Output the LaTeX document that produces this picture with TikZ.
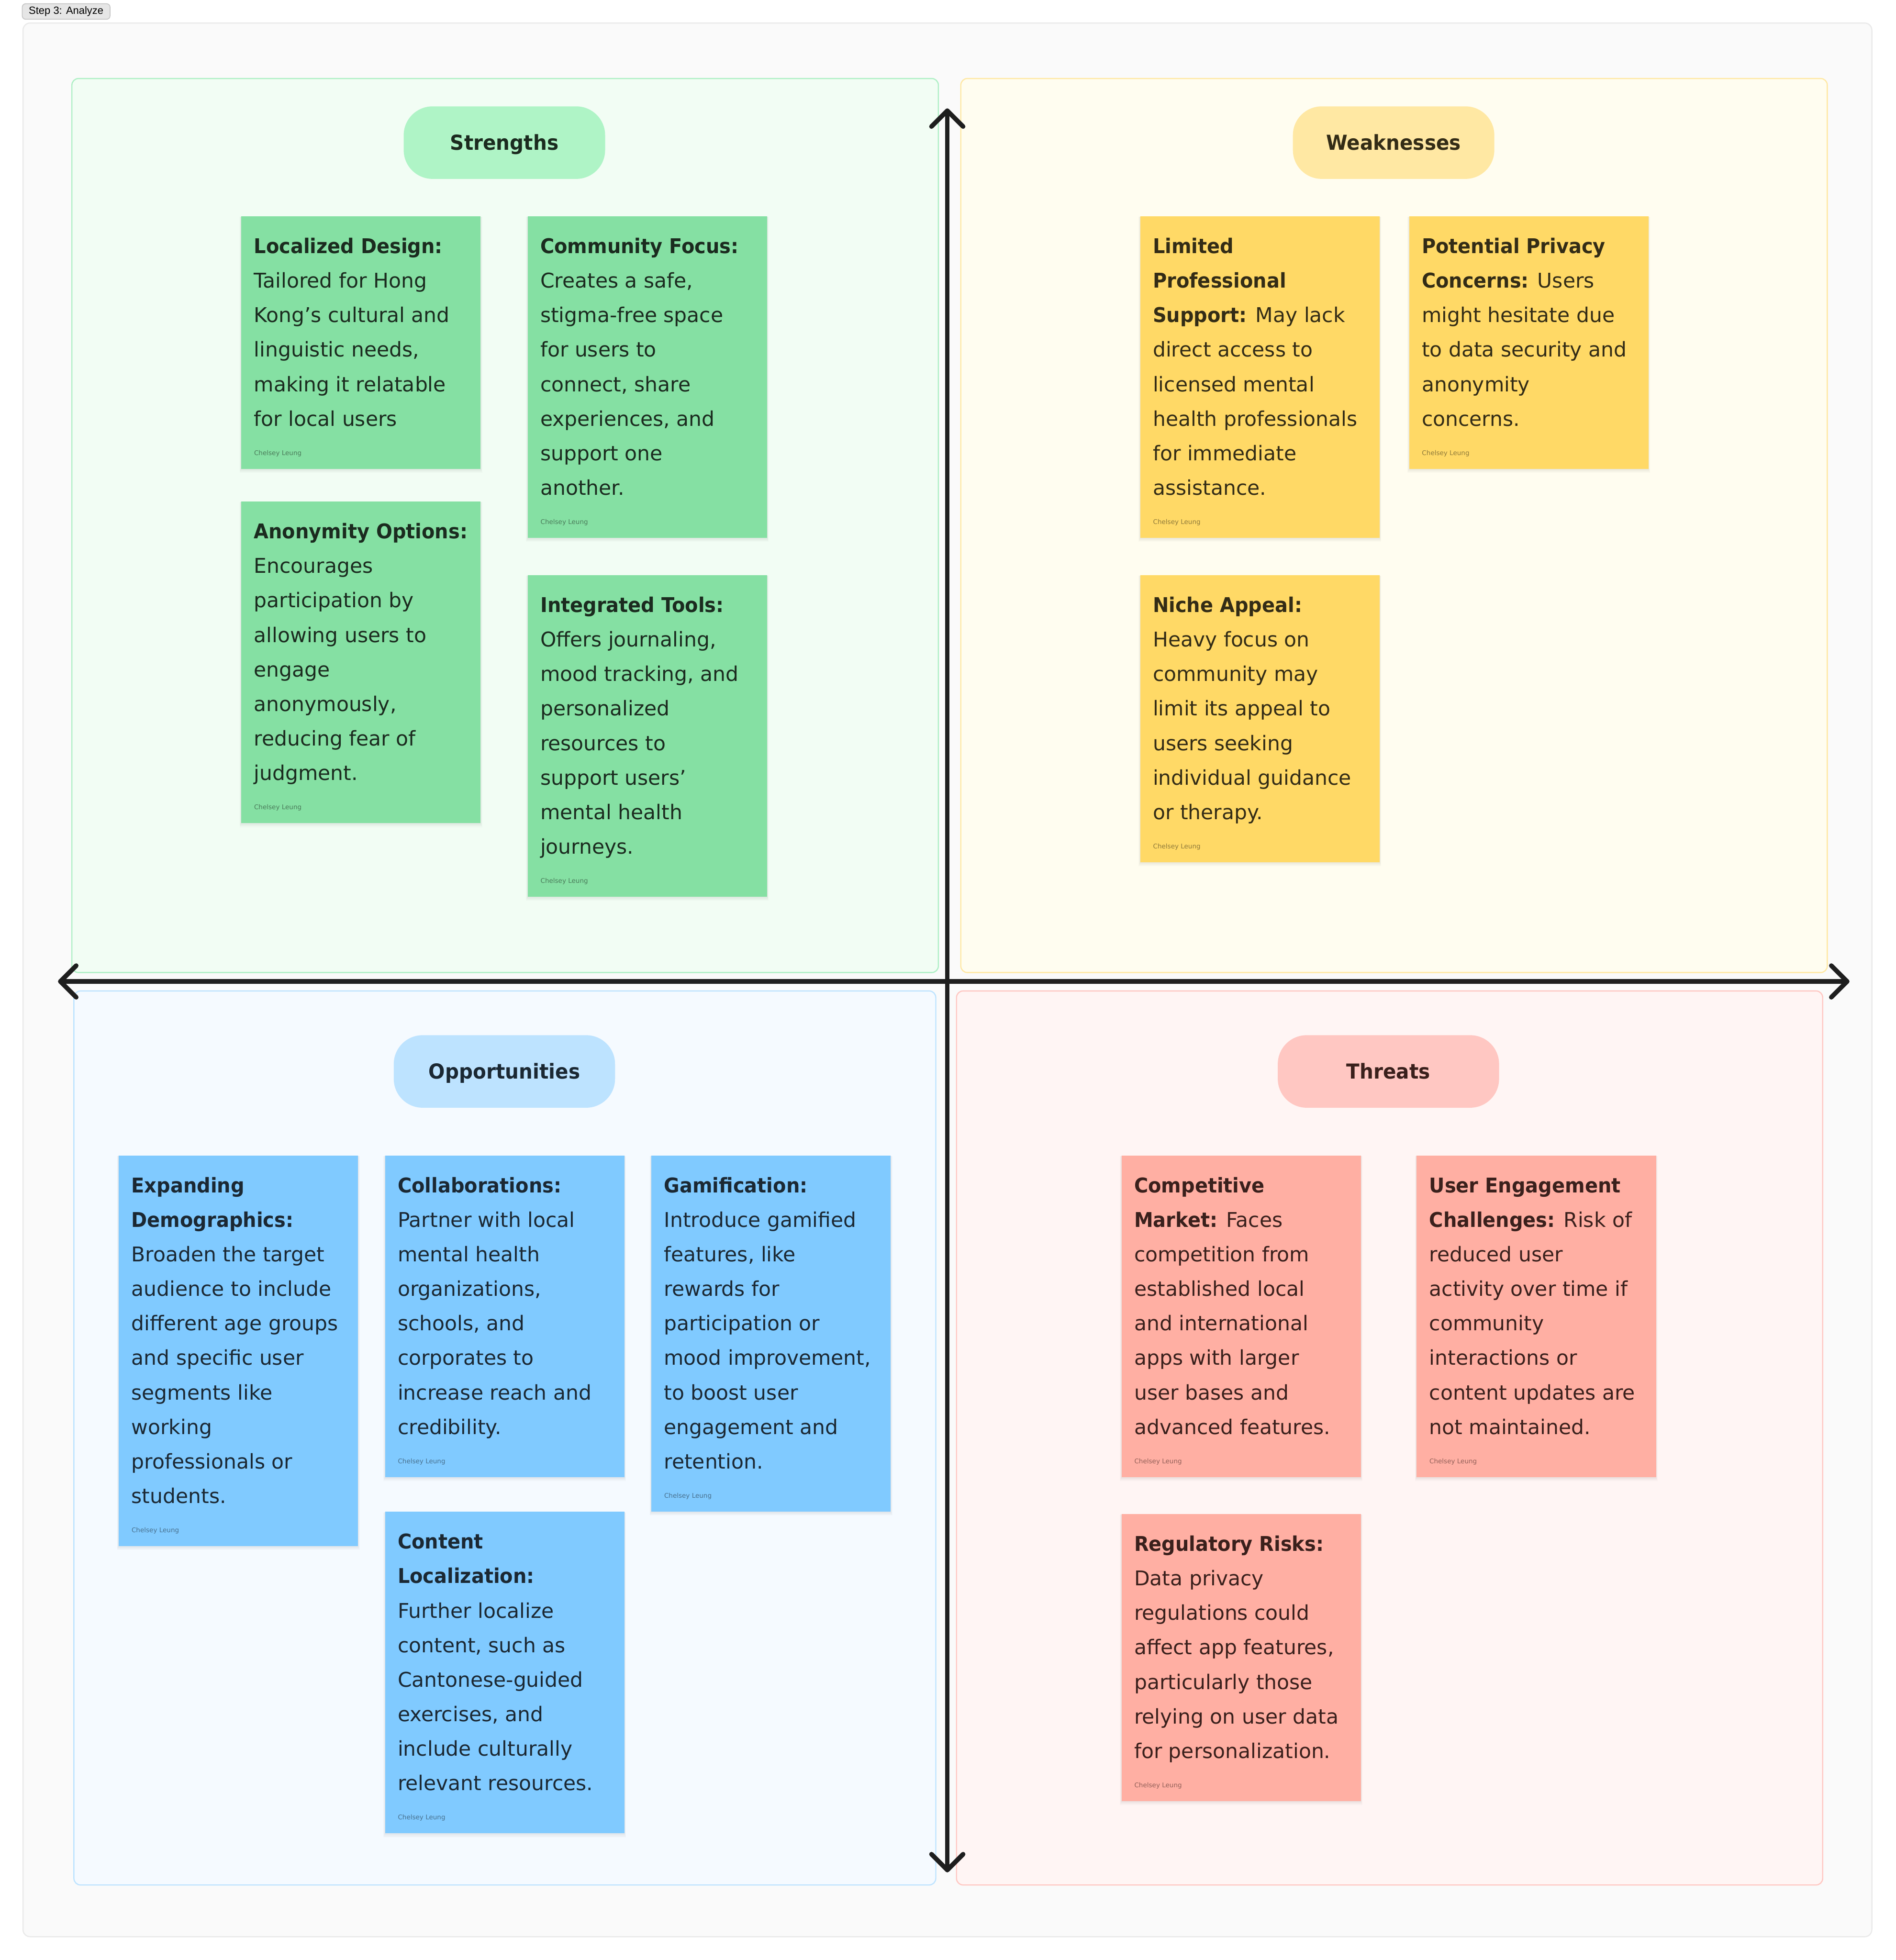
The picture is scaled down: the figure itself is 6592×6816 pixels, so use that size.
\documentclass[tikz,border=0pt]{standalone}
\usepackage{fontspec}
\setmainfont{DejaVu Sans}[BoldFeatures={FakeStretch=0.94}]
\newfontfamily\labelfont{Liberation Sans}
\usetikzlibrary{calc}

\definecolor{pagebg}{HTML}{FAFAFA}
\definecolor{pageline}{HTML}{EAEAEA}
\definecolor{greenbg}{HTML}{F2FDF4}
\definecolor{greenline}{HTML}{AEF0C5}
\definecolor{greenpill}{HTML}{AFF4C6}
\definecolor{greenfill}{HTML}{85E0A3}
\definecolor{greenink}{HTML}{1B2B1F}
\definecolor{yellowbg}{HTML}{FFFDF0}
\definecolor{yellowline}{HTML}{FFE8A3}
\definecolor{yellowpill}{HTML}{FFE8A3}
\definecolor{yellowfill}{HTML}{FFD966}
\definecolor{yellowink}{HTML}{332C16}
\definecolor{bluebg}{HTML}{F5FAFF}
\definecolor{blueline}{HTML}{BDE3FF}
\definecolor{bluepill}{HTML}{BDE3FF}
\definecolor{bluefill}{HTML}{80CAFF}
\definecolor{blueink}{HTML}{1B2833}
\definecolor{redbg}{HTML}{FFF5F4}
\definecolor{redline}{HTML}{FFC7C2}
\definecolor{redpill}{HTML}{FFC7C2}
\definecolor{redfill}{HTML}{FFAFA3}
\definecolor{redink}{HTML}{3A201C}
\definecolor{axiscol}{HTML}{1E1E1E}
\definecolor{tagfill}{HTML}{E6E6E6}
\definecolor{tagline}{HTML}{C7C7C7}

\tikzset{
  note/.style={draw=none, fill=#1fill, minimum width=8.32cm, inner sep=0pt, outer sep=0pt, anchor=north west},
  notetext/.style={text=#1ink, align=left, inner sep=0pt, outer sep=0pt, anchor=north west,
    font=\fontsize{20.1pt}{34.14pt}\selectfont},
  author/.style={text=#1ink, text opacity=0.55, inner sep=0pt, anchor=base west,
    font=\fontsize{6.4pt}{8pt}\selectfont},
  quad/.style={draw=#1line, fill=#1bg, line width=0.04cm, rounded corners=0.23cm},
  pill/.style={fill=#1pill, rounded corners=1cm, minimum height=2.52cm, inner sep=0pt,
    text height=0.52cm, text depth=0pt,
    text=#1ink, font=\bfseries\fontsize{20.4pt}{24pt}\selectfont},
  axis/.style={draw=axiscol, line width=0.16cm, line cap=round, line join=round},
  steptag/.style={fill=tagfill, draw=tagline, line width=0.03cm, rounded corners=0.12cm,
    minimum width=3.05cm, minimum height=0.54cm, inner sep=0pt,
    font=\labelfont\fontsize{10.4pt}{12pt}\selectfont, text=black},
}

% #1 name, #2 x, #3 y (top left, px), #4 number of lines, #5 colour, #6 text
\newcommand\stickynote[6]{%
  \foreach \s in {3,6,9,12}{%
    \fill[black,opacity=0.018] (#2-\s*0.5, #3+\s*0.2) rectangle (#2+832+\s*0.5, #3+158+120*#4+\s*1.2);}
  \pgfmathsetmacro\noteh{(158+120*#4)/100}%
  \node[note=#5, minimum height=\noteh cm] (#1) at (#2,#3) {};
  \node[notetext=#5] (#1-t) at ($(#1.north west)+(44,67)$) {\rule{0pt}{0.62cm}#6};
  \node[author=#5] (#1-a) at ($(#1.north west)+(44,111+120*#4)$) {Chelsey Leung};
}

\begin{document}
\begin{tikzpicture}[x=0.01cm, y=-0.01cm]
\useasboundingbox (0,0) rectangle (6592,6816);
\fill[white] (0,0) rectangle (6592,6816);

% board
\draw[fill=pagebg, draw=pageline, line width=0.04cm, rounded corners=0.25cm] (80,80) rectangle (6509,6735);
\node[steptag] (step) at (230,40) {Step 3: Analyze};

% quadrants
\draw[quad=green]  (250,273)  rectangle (3263,3382);
\draw[quad=yellow] (3341,273) rectangle (6354,3382);
\draw[quad=blue]   (257,3446) rectangle (3254,6555);
\draw[quad=red]    (3326,3446) rectangle (6338,6555);

% section titles
\node[pill=green,  minimum width=7cm]    (tS) at (1754,496)  {Strengths};
\node[pill=yellow, minimum width=7cm]    (tW) at (4846,496)  {Weaknesses};
\node[pill=blue,   minimum width=7.69cm] (tO) at (1754,3726) {Opportunities};
\node[pill=red,    minimum width=7.69cm] (tT) at (4828,3726) {Threats};

% strengths
\stickynote{n1}{839}{752}{6}{green}{\textbf{Localized Design:}\\Tailored for Hong\\Kong’s cultural and\\linguistic needs,\\making it relatable\\for local users}
\stickynote{n2}{1835}{752}{8}{green}{\textbf{Community Focus:}\\Creates a safe,\\stigma-free space\\for users to\\connect, share\\experiences, and\\support one\\another.}
\stickynote{n3}{839}{1744}{8}{green}{\textbf{Anonymity Options:}\\Encourages\\participation by\\allowing users to\\engage\\anonymously,\\reducing fear of\\judgment.}
\stickynote{n4}{1835}{2000}{8}{green}{\textbf{Integrated Tools:}\\Offers journaling,\\mood tracking, and\\personalized\\resources to\\support users’\\mental health\\journeys.}

% weaknesses
\stickynote{n5}{3965}{752}{8}{yellow}{\textbf{Limited}\\\textbf{Professional}\\\textbf{Support:} May lack\\direct access to\\licensed mental\\health professionals\\for immediate\\assistance.}
\stickynote{n6}{4900}{752}{6}{yellow}{\textbf{Potential Privacy}\\\textbf{Concerns:} Users\\might hesitate due\\to data security and\\anonymity\\concerns.}
\stickynote{n7}{3965}{2000}{7}{yellow}{\textbf{Niche Appeal:}\\Heavy focus on\\community may\\limit its appeal to\\users seeking\\individual guidance\\or therapy.}

% opportunities
\stickynote{n8}{413}{4018}{10}{blue}{\textbf{Expanding}\\\textbf{Demographics:}\\Broaden the target\\audience to include\\different age groups\\and specific user\\segments like\\working\\professionals or\\students.}
\stickynote{n9}{1339}{4018}{8}{blue}{\textbf{Collaborations:}\\Partner with local\\mental health\\organizations,\\schools, and\\corporates to\\increase reach and\\credibility.}
\stickynote{n10}{2265}{4018}{9}{blue}{\textbf{Gamification:}\\Introduce gamified\\features, like\\rewards for\\participation or\\mood improvement,\\to boost user\\engagement and\\retention.}
\stickynote{n11}{1339}{5257}{8}{blue}{\textbf{Content}\\\textbf{Localization:}\\Further localize\\content, such as\\Cantonese-guided\\exercises, and\\include culturally\\relevant resources.}

% threats
\stickynote{n12}{3900}{4018}{8}{red}{\textbf{Competitive}\\\textbf{Market:} Faces\\competition from\\established local\\and international\\apps with larger\\user bases and\\advanced features.}
\stickynote{n13}{4926}{4018}{8}{red}{\textbf{User Engagement}\\\textbf{Challenges:} Risk of\\reduced user\\activity over time if\\community\\interactions or\\content updates are\\not maintained.}
\stickynote{n14}{3900}{5265}{7}{red}{\textbf{Regulatory Risks:}\\Data privacy\\regulations could\\affect app features,\\particularly those\\relying on user data\\for personalization.}

% axes
\coordinate (axT) at (3294,385);
\coordinate (axB) at (3294,6503);
\coordinate (axL) at (210,3413);
\coordinate (axR) at (6423,3413);
\draw[axis] (axB) -- (axT);
\draw[axis] (axL) -- (axR);
\draw[axis] ($(axT)+(-55,55)$) -- (axT) -- ($(axT)+(55,55)$);
\draw[axis] ($(axB)+(-55,-55)$) -- (axB) -- ($(axB)+(55,-55)$);
\draw[axis] ($(axL)+(55,-55)$) -- (axL) -- ($(axL)+(55,55)$);
\draw[axis] ($(axR)+(-55,-55)$) -- (axR) -- ($(axR)+(-55,55)$);
\end{tikzpicture}
\end{document}
